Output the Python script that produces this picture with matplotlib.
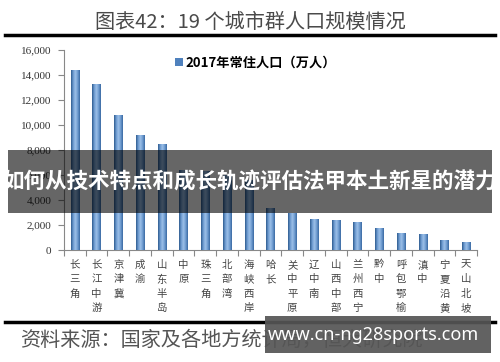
import matplotlib
matplotlib.use("Agg")
import matplotlib.pyplot as plt
import numpy as np
from matplotlib.patches import Rectangle
from matplotlib.colors import LinearSegmentedColormap

categories = ["长三角", "长江中游", "京津冀", "成渝", "山东半岛", "中原", "珠三角", "北部湾",
              "海峡西岸", "哈长", "关中平原", "辽中南", "山西中部", "兰州西宁", "黔中",
              "呼包鄂榆", "滇中", "宁夏沿黄", "天山北坡"]
population = [14400, 13300, 10800, 9200, 8480, 6400, 6300, 6000, 5600, 3350, 2930, 2480,
              2400, 2210, 1760, 1390, 1310, 800, 670]
yticks = [0, 2000, 4000, 6000, 8000, 10000, 12000, 14000, 16000]
series_name = "2017年常住人口（万人）"
title = "图表42：19 个城市群人口规模情况"
source = "资料来源：国家及各地方统计局，恒大研究院"
banner = "如何从技术特点和成长轨迹评估法甲本土新星的潜力"
site = "www.cn-ng28sports.com"

CJK = ["Noto Sans CJK SC", "DejaVu Sans"]
plt.rcParams['font.family'] = CJK

W, H = 500, 362
fig = plt.figure(figsize=(W / 100, H / 100), dpi=100)
fig.patch.set_facecolor("white")

def fx(px):
    return px / W

def fy(py):
    return 1 - py / H

ax = fig.add_axes([fx(64), fy(250), fx(477) - fx(64), fy(50) - fy(250)])
x = np.arange(len(categories))
bars = ax.bar(x, population, width=0.38, color="#4F81BD", edgecolor="none",
              label=series_name, zorder=2)

cmap = LinearSegmentedColormap.from_list(
    "excel", ["#2E5C8F", "#6E9BD0", "#9CC0E8", "#6E9BD0", "#3A6AA2"])
grad = np.linspace(0, 1, 64).reshape(1, -1)
for p in bars:
    x0, w, h = p.get_x(), p.get_width(), p.get_height()
    im = ax.imshow(grad, extent=[x0, x0 + w, 0, h], aspect="auto", cmap=cmap,
                   zorder=3, origin="lower")
    im.set_clip_path(p)

ax.set_xlim(-0.5, len(categories) - 0.5)
ax.set_ylim(0, 16000)
ax.set_yticks(yticks)
ax.set_yticklabels([f"{v:,}" for v in yticks], family="Liberation Serif",
                   fontsize=8, color="#333333")
ax.tick_params(axis="y", length=4, width=0.8, color="#888888", pad=5)

ax.set_xticks(x)
ax.set_xticklabels(["\n".join(c) for c in categories], fontsize=7.5,
                   color="#444444", linespacing=1.55, va="top")
ax.tick_params(axis="x", which="major", length=0, pad=7)
ax.set_xticks(np.arange(-0.5, len(categories), 1), minor=True)
ax.tick_params(axis="x", which="minor", length=4, width=0.8, color="#888888")

for s in ["top", "right"]:
    ax.spines[s].set_visible(False)
for s in ["left", "bottom"]:
    ax.spines[s].set_color("#888888")
    ax.spines[s].set_linewidth(0.8)

leg = ax.legend(loc="upper left", bbox_to_anchor=(0.24, 1.03), frameon=False,
                handlelength=0.6, handleheight=0.6, handletextpad=0.2,
                prop={"family": CJK, "size": 9.5, "weight": "bold"})

# title and rules
fig.text(0.5, fy(22), title, ha="center", va="center", fontsize=14.5, color="#4a4a4a")
fig.add_artist(plt.Line2D([fx(5), fx(495)], [fy(35), fy(35)], color="black", lw=2.5))
fig.add_artist(plt.Line2D([fx(5), fx(495)], [fy(322), fy(322)], color="black", lw=2.5))
fig.text(fx(20), fy(340), source, ha="left", va="center", fontsize=14.5,
         color="#555555", style="italic")

# overlays
fig.add_artist(Rectangle((fx(8), fy(213)), fx(492) - fx(8), fy(150) - fy(213),
                         transform=fig.transFigure, facecolor="black", alpha=0.6,
                         edgecolor="none", zorder=10))
fig.text(0.5, fy(182), banner, ha="center", va="center", fontsize=15.5,
         color="white", weight="bold", zorder=11)
fig.add_artist(Rectangle((fx(265), fy(353)), fx(491) - fx(265), fy(316) - fy(353),
                         transform=fig.transFigure, facecolor="#555555", alpha=0.92,
                         edgecolor="none", zorder=10))
fig.text(fx(373), fy(335), site, ha="center", va="center", fontsize=13,
         color="white", weight="bold", family=["Noto Sans", "DejaVu Sans"], zorder=11)

fig.savefig("out.png", dpi=100)
